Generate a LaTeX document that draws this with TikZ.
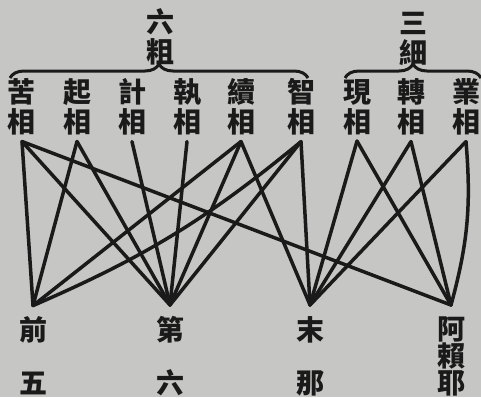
\documentclass[tikz,border=0pt]{standalone}
\usepackage{fontspec}
\setmainfont{Noto Sans CJK TC}
\usetikzlibrary{decorations.pathreplacing}
\definecolor{paper}{RGB}{198,198,196}
\definecolor{ink}{RGB}{26,26,26}
\tikzset{
  zi/.style={font=\bfseries\fontsize{28}{30}\selectfont, text=ink, align=center, inner xsep=0pt},
  shang/.style={zi, inner ysep=6pt},
  xia/.style={zi, inner ysep=11pt},
  lian/.style={draw=ink, line width=3.5pt, line cap=round},
  kuo/.style={draw=ink, line width=3pt, decorate, decoration={brace, amplitude=14pt}},
}
\begin{document}
\begin{tikzpicture}[x=1pt,y=-1pt]
\fill[paper] (0,0) rectangle (481,397);
\useasboundingbox (0,0) rectangle (481,397);
\node[zi] (liucu) at (160,37) {六\\粗};
\node[zi] (sanxi) at (413,39) {三\\細};
\draw[kuo] (10,78) -- (308,78);
\draw[kuo] (345,78) -- (481,78);
\node[shang] (ku) at (22,107) {苦\\相};
\node[shang] (qi) at (77,107) {起\\相};
\node[shang] (ji) at (132,107) {計\\相};
\node[shang] (zhiqu) at (187,107) {執\\相};
\node[shang] (xu) at (241,107) {續\\相};
\node[shang] (zhi) at (301,107) {智\\相};
\node[shang] (xian) at (357,107) {現\\相};
\node[shang] (zhuan) at (411,107) {轉\\相};
\node[shang] (ye) at (466,107) {業\\相};
\node[xia] (qianwu) at (33,356) {前\\[23pt]五};
\node[xia] (diliu) at (170,356) {第\\[23pt]六};
\node[xia] (mona) at (310,356) {末\\[23pt]那};
\node[xia, font=\bfseries\fontsize{28}{27}\selectfont] (alaiye) at (451,356) {阿\\賴\\耶};
\foreach \s/\t in {ku/qianwu, ku/diliu, ku/alaiye, qi/qianwu, qi/diliu, ji/diliu,
  zhiqu/diliu, xu/qianwu, xu/diliu, xu/mona, zhi/diliu, zhi/mona,
  xian/mona, xian/alaiye, zhuan/mona, zhuan/alaiye, ye/mona}
  \draw[lian] (\s.south) -- (\t.north);
\draw[lian] (zhi.south) to[bend left=8] (qianwu.north);
\draw[lian] (ye.south) to[bend left=10] (alaiye.north);
\end{tikzpicture}
\end{document}
